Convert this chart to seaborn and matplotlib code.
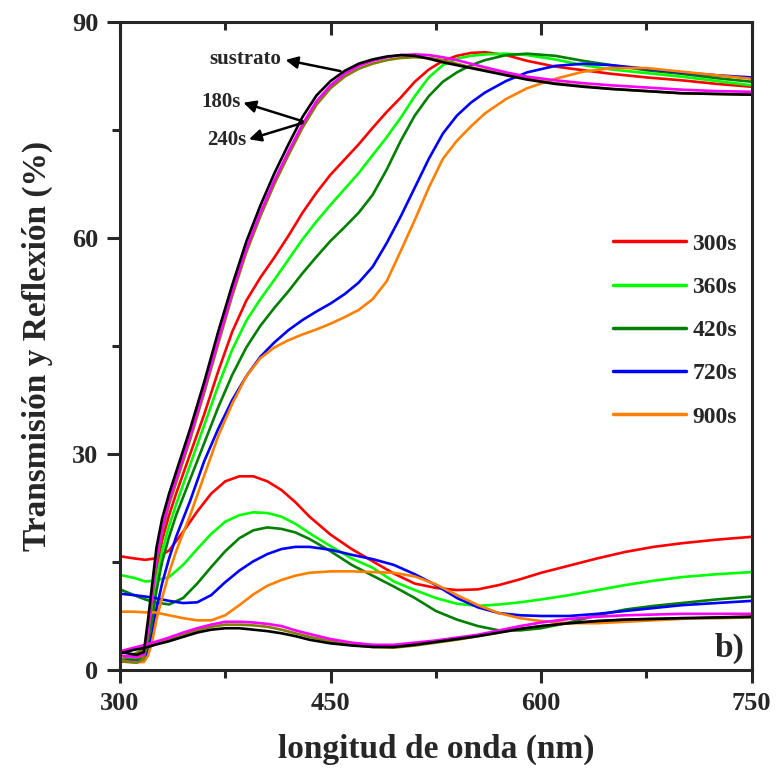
import numpy as np
import pandas as pd
import matplotlib
matplotlib.use("Agg")
import matplotlib.pyplot as plt
import seaborn as sns

# wavelength grids (nm)
t_wl = [300, 312, 317, 320, 323, 326, 330, 335, 340, 350, 360, 370, 380, 390, 400,
        410, 420, 430, 440, 450, 460, 470, 480, 490, 500, 510, 520, 530, 540, 550,
        560, 575, 590, 610, 630, 650, 675, 700, 725, 750]
r_wl = [300, 310, 318, 325, 335, 345, 355, 365, 375, 385, 395, 405, 415, 425, 435,
        450, 465, 480, 495, 510, 525, 540, 555, 570, 585, 600, 620, 640, 660, 680,
        700, 725, 750]

# transmission (%)
t_sustrato = [2.5, 2.1, 2.5, 7, 12, 17, 21, 24.5, 27.5, 33.5, 40, 47, 53.5, 59.5, 64.5,
              69, 73, 76.8, 79.8, 81.8, 83.2, 84.2, 84.8, 85.2, 85.4, 85.3, 84.9, 84.4, 84.0, 83.6,
              83.2, 82.6, 82.0, 81.4, 81.0, 80.7, 80.4, 80.1, 80.0, 79.9]
t_180 = [2.0, 1.8, 2.2, 5.5, 10.5, 15.5, 19.5, 23.5, 26.5, 32.5, 39, 45.8, 52.5, 58.5, 63.5,
         68, 72, 75.8, 79.0, 81.2, 82.8, 83.9, 84.6, 85.1, 85.4, 85.5, 85.4, 85.1, 84.7, 84.2,
         83.7, 83.0, 82.4, 81.9, 81.5, 81.2, 80.9, 80.6, 80.4, 80.3]
t_240 = [1.2, 1.0, 1.5, 5, 10, 15, 19, 23, 26, 32, 38.5, 45.3, 52, 58, 63,
         67.5, 71.5, 75.3, 78.5, 80.8, 82.4, 83.5, 84.2, 84.7, 85.0, 85.1, 85.0, 84.7, 84.2, 83.7,
         83.3, 82.7, 82.1, 81.5, 81.1, 80.7, 80.4, 80.1, 80.0, 79.9]
t_300 = [1.5, 1.4, 1.8, 5, 9.5, 14, 18, 21.5, 24.5, 30, 35.5, 41.5, 47, 51.3, 54.5,
         57.3, 60.3, 63.5, 66.3, 68.8, 70.9, 73.0, 75.3, 77.5, 79.5, 81.7, 83.4, 84.6, 85.3, 85.7,
         85.8, 85.4, 84.6, 83.8, 83.3, 82.8, 82.3, 81.9, 81.4, 81.0]
t_360 = [1.5, 1.4, 1.6, 4, 8, 12.5, 16.5, 20, 23, 28.5, 34, 39.5, 44.5, 48.5, 51.5,
         54.2, 57, 59.8, 62.3, 64.6, 66.8, 69, 71.5, 74, 76.7, 79.7, 82.3, 84, 84.9, 85.3,
         85.5, 85.6, 85.4, 84.8, 84.0, 83.4, 82.9, 82.4, 81.8, 81.2]
t_420 = [1.5, 1.4, 1.5, 3.5, 7, 11, 15, 18.5, 21.5, 26.5, 31.5, 36.5, 41, 44.8, 47.8,
         50.3, 52.6, 55.1, 57.4, 59.6, 61.5, 63.5, 66.0, 69.5, 73.5, 77, 79.7, 81.7, 83.0, 84.0,
         84.7, 85.4, 85.6, 85.3, 84.6, 84.0, 83.3, 82.8, 82.2, 81.7]
t_720 = [1.3, 1.2, 1.3, 2.5, 5, 8.5, 12, 15.5, 18.5, 23.5, 29, 33.5, 37.5, 40.8, 43.5,
         45.5, 47.2, 48.6, 49.8, 50.9, 52.2, 53.8, 56, 59.3, 63, 67, 71, 74.5, 77, 78.8,
         80.2, 81.8, 83.0, 83.9, 84.2, 84.0, 83.5, 83.0, 82.6, 82.3]
t_900 = [1.2, 1.1, 1.1, 2, 4, 7, 10, 13.5, 16.5, 21.5, 27, 32.5, 37, 40.8, 43.3,
         44.8, 45.8, 46.6, 47.3, 48.1, 49, 50, 51.5, 54, 58.2, 62.5, 67, 71, 73.5, 75.5,
         77.3, 79.3, 80.8, 82.1, 83.1, 83.6, 83.6, 83.1, 82.6, 82.1]

# reflection (%)
r_sustrato = [2.3, 2.8, 3.1, 3.5, 4.0, 4.6, 5.2, 5.6, 5.8, 5.8, 5.6, 5.4, 5.1, 4.7, 4.2,
              3.7, 3.4, 3.2, 3.2, 3.5, 3.9, 4.3, 4.7, 5.2, 5.7, 6.1, 6.5, 6.8, 7.0, 7.1,
              7.2, 7.3, 7.4]
r_180 = [2.6, 3.1, 3.5, 3.9, 4.5, 5.2, 5.8, 6.3, 6.7, 6.7, 6.6, 6.4, 6.1, 5.5, 5.0,
         4.3, 3.8, 3.5, 3.5, 3.8, 4.1, 4.5, 4.9, 5.5, 6.1, 6.6, 7.1, 7.4, 7.6, 7.7,
         7.8, 7.8, 7.8]
r_240 = [1.4, 2.2, 3.0, 3.6, 4.2, 4.9, 5.5, 6.0, 6.3, 6.3, 6.2, 6.0, 5.6, 5.1, 4.6,
         4.0, 3.5, 3.2, 3.1, 3.4, 3.8, 4.2, 4.7, 5.2, 5.7, 6.1, 6.5, 6.8, 7.0, 7.1,
         7.2, 7.2, 7.3]
r_300 = [15.8, 15.5, 15.3, 15.5, 16.6, 19.2, 22, 24.5, 26.2, 26.9, 26.9, 26.2, 25, 23.3, 21.3,
         18.8, 16.8, 15.1, 13.4, 12.0, 11.4, 11.1, 11.2, 11.8, 12.6, 13.5, 14.5, 15.5, 16.4, 17.1,
         17.6, 18.1, 18.5]
r_360 = [13.2, 12.8, 12.3, 12.4, 12.9, 14.6, 16.8, 18.9, 20.6, 21.5, 21.9, 21.8, 21.3, 20.3, 19,
         17.2, 15.5, 14.2, 12.3, 11.1, 10, 9.2, 8.9, 9.1, 9.4, 9.8, 10.4, 11.1, 11.8, 12.4,
         12.9, 13.3, 13.6]
r_420 = [11.2, 10.4, 9.8, 9.4, 9.1, 10, 12, 14.3, 16.5, 18.3, 19.4, 19.8, 19.6, 19.1, 18.2,
         16.5, 14.6, 13.1, 11.6, 10.0, 8.2, 7.0, 6.1, 5.5, 5.5, 5.8, 6.6, 7.6, 8.4, 8.9,
         9.3, 9.8, 10.2]
r_720 = [10.6, 10.4, 10.2, 10, 9.6, 9.3, 9.4, 10.4, 12.2, 13.8, 15.1, 16.1, 16.8, 17.1, 17.1,
         16.7, 16.0, 15.4, 14.6, 13.3, 11.8, 10.0, 8.7, 7.9, 7.6, 7.5, 7.5, 7.8, 8.2, 8.6,
         9.0, 9.3, 9.6]
r_900 = [8.1, 8.1, 8.0, 8, 7.6, 7.2, 6.9, 6.9, 7.6, 9, 10.5, 11.7, 12.5, 13.1, 13.5,
         13.7, 13.7, 13.6, 13.5, 13.0, 11.9, 10.4, 9.0, 7.9, 7.2, 6.8, 6.5, 6.5, 6.7, 6.9,
         7.1, 7.3, 7.4]

# draw order: coloured first, substrate last (on top)
series = [
    ("300s", t_300, r_300, "#ff0000", True),
    ("360s", t_360, r_360, "#00ff00", True),
    ("420s", t_420, r_420, "#007f00", True),
    ("720s", t_720, r_720, "#0000ff", True),
    ("900s", t_900, r_900, "#ff8000", True),
    ("240s", t_240, r_240, "#808000", False),
    ("180s", t_180, r_180, "#ff00ff", False),
    ("sustrato", t_sustrato, r_sustrato, "#000000", False),
]

sns.set_style("ticks")
plt.rcParams['font.family'] = ['Liberation Serif', 'DejaVu Serif']
plt.rcParams['font.weight'] = 'bold'

fig = plt.figure(figsize=(7.79, 7.71), dpi=100)
ax = fig.add_axes([0.154, 0.131, 0.811, 0.8405])

legend_handles = []
for name, t_vals, r_vals, col, in_legend in series:
    sns.lineplot(x=t_wl, y=t_vals, color=col, linewidth=1.9, ax=ax)
    sns.lineplot(x=r_wl, y=r_vals, color=col, linewidth=1.9, ax=ax)
    if in_legend:
        legend_handles.append(plt.Line2D([], [], color=col, linewidth=2.5, label=name))

ax.set_xlim(300, 750)
ax.set_ylim(0, 90)
ax.set_xticks([300, 450, 600, 750])
ax.set_xticks([375, 525, 675], minor=True)
ax.set_yticks([0, 30, 60, 90])
ax.set_yticks([15, 45, 75], minor=True)

for side in ['left', 'bottom', 'top', 'right']:
    ax.spines[side].set_linewidth(2.2)
ax.tick_params(axis='both', which='major', direction='out', length=9.5, width=2.2,
               labelsize=19, pad=6)
ax.tick_params(axis='both', which='minor', direction='out', length=5.5, width=2.2)
ax.tick_params(axis='x', which='both', top=True)
for lbl in ax.get_xticklabels() + ax.get_yticklabels():
    lbl.set_fontweight('bold')

# top ticks pointing inward
for t in ax.xaxis.get_major_ticks() + ax.xaxis.get_minor_ticks():
    t.tick2line.set_marker(3)

ax.set_xlabel("longitud de onda (nm)", fontsize=24, fontweight='bold', labelpad=14)
ax.set_ylabel("Transmisión y Reflexión (%)", fontsize=24, fontweight='bold', labelpad=14)

ax.legend(handles=legend_handles, loc='upper left', bbox_to_anchor=(0.747, 0.707),
          frameon=False, handlelength=3.1, handletextpad=0.25,
          labelspacing=0.92, prop={'weight': 'bold', 'size': 17})

arrow = dict(arrowstyle='-|>', color='black', lw=1.8, mutation_scale=18)
ax.annotate("", xy=(416, 84.8), xytext=(459, 83.1), arrowprops=arrow)
ax.text(415, 84.8, "sustrato", ha='right', va='center', fontsize=15, fontweight='bold')
ax.annotate("", xy=(386, 78.9), xytext=(432, 76.1), arrowprops=arrow)
ax.text(386, 78.9, "180s", ha='right', va='center', fontsize=15, fontweight='bold')
ax.annotate("", xy=(390, 73.6), xytext=(432, 76.1), arrowprops=arrow)
ax.text(390, 73.6, "240s", ha='right', va='center', fontsize=15, fontweight='bold')

ax.text(745, 3.0, "b)", ha='right', va='center', fontsize=24, fontweight='bold')

fig.savefig("out.png", dpi=100)
